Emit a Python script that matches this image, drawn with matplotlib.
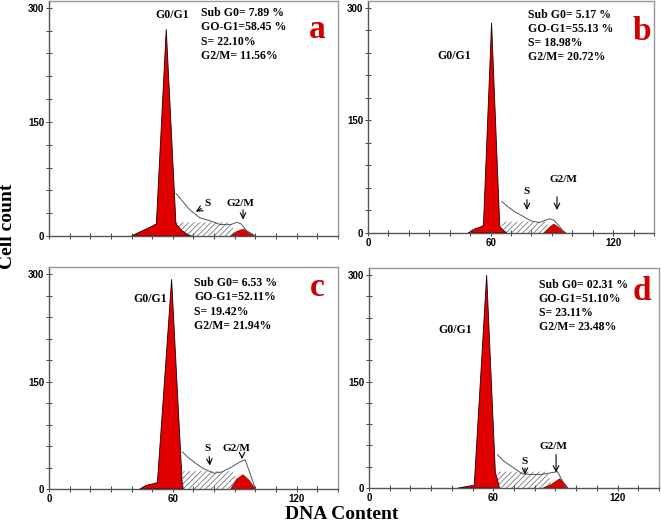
import matplotlib
matplotlib.use("Agg")
from matplotlib import pyplot as plt
from matplotlib.ticker import MultipleLocator, FixedLocator

plt.rcParams['hatch.linewidth'] = 0.6

# ---- data (x = DNA content, y = cell count) ----
panels = ['a', 'b', 'c', 'd']

g1_x = {
    'a': [40, 43, 47, 50, 52, 56.8, 61.5, 64, 67, 69],
    'b': [49, 52, 55, 56.5, 60.5, 64.5, 66, 68],
    'c': [44, 47, 50, 52.5, 59.4, 64.5, 64.8, 65],
    'd': [43, 47, 50.8, 56.8, 61, 62, 63],
}
g1_y = {
    'a': [0, 4, 9, 13, 16, 272, 16, 8, 2, 0],
    'b': [0, 5, 8, 10, 280, 9, 4, 0],
    'c': [0, 5, 7, 9, 293, 9, 5, 0],
    'd': [0, 2, 4, 300, 22, 12, 0],
}

s_x = {'a': [61.5, 88, 91], 'b': [65.5, 87, 90], 'c': [64.6, 89, 93], 'd': [62, 86, 89]}
s_y = {'a': [18, 18, 0], 'b': [15, 15, 0], 'c': [25, 25, 0], 'd': [23, 23, 0]}

g2_x = {
    'a': [88, 91, 94, 97, 100],
    'b': [86, 89, 91, 94, 97],
    'c': [88, 91, 94, 97, 100],
    'd': [84, 88, 92, 94, 96],
}
g2_y = {
    'a': [0, 6, 9, 5, 0],
    'b': [0, 8, 12, 6, 0],
    'c': [0, 14, 20, 12, 0],
    'd': [0, 5, 13, 8, 0],
}

fit_x = {
    'a': [61.5, 64, 68, 73, 78, 83, 88, 91, 93, 96, 99],
    'b': [65.5, 68, 72, 76, 80, 84, 87, 89, 91, 94, 96],
    'c': [64.6, 67, 71, 75, 80, 84, 88, 92, 95, 97, 100],
    'd': [62, 65, 70, 74, 78, 83, 87, 91, 93, 95],
}
fit_y = {
    'a': [56, 48, 35, 24, 20, 15, 15, 18, 16, 6, 0],
    'b': [42, 36, 28, 22, 16, 14, 17, 19, 17, 8, 0],
    'c': [52, 45, 36, 28, 22, 24, 30, 37, 41, 25, 0],
    'd': [47, 38, 28, 20, 19, 19, 21, 23, 12, 0],
}

stats = {
    'a': ['Sub G0= 7.89 %', 'GO-G1=58.45 %', 'S= 22.10%', 'G2/M= 11.56%'],
    'b': ['Sub G0= 5.17 %', 'GO-G1=55.13 %', 'S= 18.98%', 'G2/M= 20.72%'],
    'c': ['Sub G0= 6.53 %', 'GO-G1=52.11%', 'S= 19.42%', 'G2/M= 21.94%'],
    'd': ['Sub G0= 02.31 %', 'GO-G1=51.10%', 'S= 23.11%', 'G2/M= 23.48%'],
}

# ---- label placement per panel (data coords) ----
g1_lab = {'a': (59.6, 291), 'b': (42, 236), 'c': (49, 265), 'd': (41.5, 222)}
stat_pos = {'a': (73.6, 301), 'b': (78.3, 299), 'c': (70.3, 296), 'd': (82, 295)}
letter_pos = {'a': (130, 271), 'b': (134, 269), 'c': (130, 282), 'd': (132, 277)}
s_lab = {'a': ((77, 43), (75, 38), (70, 30)),
         'b': ((77.8, 55), (77.8, 48), (77.8, 27)),
         'c': ((77, 56), (77.5, 49), (78, 29)),
         'd': ((75, 38), (75.3, 32), (75.3, 15))}
g2_lab = {'a': ((92.5, 43), (94, 38), (94, 18)),
          'b': ((95.5, 71), (92.5, 52), (92.5, 27)),
          'c': ((91, 56), (93.5, 50), (93.5, 38)),
          'd': ((89, 58), (90.3, 51), (90.3, 18))}

# axes rectangles in pixels: left, right, top, bottom
W, H = 661, 522
boxes = {'a': (49, 338, 1, 236), 'b': (368, 654, 1, 233),
         'c': (49, 338, 267, 489), 'd': (369, 659, 268, 488)}
ytops = {'a': 309, 'b': 309, 'c': 310, 'd': 310}

serif = 'Liberation Serif'
sans = 'Liberation Sans'
red = '#e00000'

fig = plt.figure(figsize=(W / 100, H / 100), dpi=100)

for p in panels:
    l, r, t, b = boxes[p]
    ax = fig.add_axes([l / W, 1 - b / H, (r - l) / W, (b - t) / H])
    ax.set_xlim(0, 140)
    ax.set_ylim(0, ytops[p])

    ax.fill_between(s_x[p], 0, s_y[p], facecolor='none', edgecolor='#777777',
                    hatch='//////', linewidth=0)
    ax.plot(fit_x[p], fit_y[p], color='#555555', lw=0.7)
    ax.fill(g1_x[p], g1_y[p], facecolor=red, edgecolor='#200000', lw=0.6)
    ax.fill(g2_x[p], g2_y[p], facecolor=red, edgecolor='#600000', lw=0.4)

    ax.text(*g1_lab[p], 'G0/G1', family=serif, fontweight='bold', fontsize=8.5,
            ha='center', va='center')
    ax.text(*stat_pos[p], '\n'.join(stats[p]), family=serif, fontweight='bold',
            fontsize=8.5, ha='left', va='top', linespacing=1.25)
    ax.text(*letter_pos[p], p, family=serif, fontweight='bold', fontsize=24,
            color='#d10000', ha='center', va='center')

    for lab, (txt, start, tip) in (('S', s_lab[p]), ('G2/M', g2_lab[p])):
        ax.text(*txt, lab, family=serif, fontweight='bold', fontsize=8,
                ha='center', va='center')
        ax.annotate('', xy=tip, xytext=start,
                    arrowprops=dict(arrowstyle='->', lw=0.8, color='black'))

    ax.xaxis.set_major_locator(FixedLocator([0, 60, 120]))
    ax.xaxis.set_minor_locator(MultipleLocator(10))
    ax.yaxis.set_major_locator(FixedLocator([0, 150, 300]))
    ax.yaxis.set_minor_locator(MultipleLocator(30))
    ax.tick_params(which='both', direction='inout', length=4, width=0.7,
                   color='#444444', labelsize=7, pad=1.5)
    for lbl in ax.get_xticklabels() + ax.get_yticklabels():
        lbl.set_family(sans)
        lbl.set_fontweight('bold')
    if p == 'a':
        ax.tick_params(axis='x', labelbottom=False)
    for side, sp in ax.spines.items():
        sp.set_color('#555555' if side in ('left', 'bottom') else '#999999')
        sp.set_linewidth(1.0)

fig.text(8 / W, 1 - 226 / H, 'Cell count', family=serif, fontweight='bold',
         fontsize=14, rotation=90, ha='center', va='center')
fig.text(342 / W, 1 - 519 / H, 'DNA Content', family=serif, fontweight='bold',
         fontsize=14, ha='center', va='baseline')

fig.savefig('out.png', dpi=100)
